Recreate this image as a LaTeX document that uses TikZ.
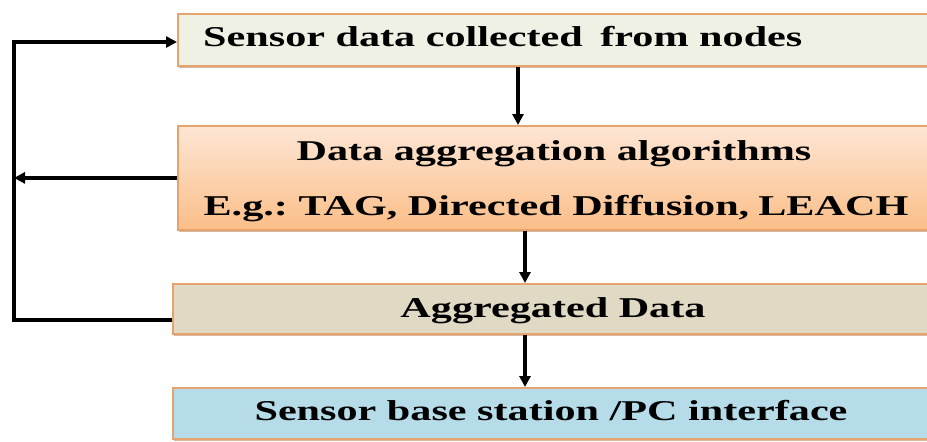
\documentclass[tikz,border=0pt]{standalone}
\usepackage{fontspec}
\setmainfont{Liberation Serif}
\frenchspacing
\usetikzlibrary{arrows.meta,shadows}
\definecolor{boxedge}{HTML}{E6A36E}
\definecolor{sensorfill}{HTML}{EEF1E3}
\definecolor{algtop}{HTML}{FDE6D5}
\definecolor{algbot}{HTML}{FBBE88}
\definecolor{aggfill}{HTML}{E0D9C3}
\definecolor{basefill}{HTML}{B5DCE8}
\definecolor{shade}{HTML}{C49C78}
\newcommand{\wide}[1]{\scalebox{1.47}[1]{#1}}
\tikzset{
  stage/.style={draw=boxedge, line width=1.8pt, anchor=north west, inner sep=0pt,
    drop shadow={shadow xshift=1pt, shadow yshift=-2.5pt, fill=shade, opacity=0.7}},
  label/.style={anchor=base, inner sep=0pt,
    font=\fontsize{28.7}{34}\selectfont\bfseries},
  arr/.style={line width=3.4pt, -{Triangle[length=11pt,width=11pt]}},
  link/.style={line width=3.4pt, line join=miter}
}
\begin{document}
\begin{tikzpicture}[x=1pt,y=-1pt]
\useasboundingbox (0,0) rectangle (927,442);
\fill[white] (0,0) rectangle (927,442);
\clip (0,0) rectangle (927,442);

% processing stages
\node[stage, fill=sensorfill, minimum width=760pt, minimum height=52pt] (b1) at (177,13) {};
\node[stage, top color=algtop, bottom color=algbot, minimum width=760pt, minimum height=104pt] (b2) at (177,125) {};
\node[stage, fill=aggfill, minimum width=765pt, minimum height=50pt] (b3) at (172,283) {};
\node[stage, fill=basefill, minimum width=765pt, minimum height=51pt] (b4) at (172,387) {};

% stage labels
\node[label, anchor=base west] (t1) at (203,46) {\wide{Sensor data collected\, from nodes}};
\node[label] (t2a) at (554,160) {\wide{Data aggregation algorithms}};
\node[label] (t2b) at (556,215) {\wide{E.g.: TAG, Directed Diffusion,\kern-1pt\ LEACH}};
\node[label] (t3) at (553,317) {\wide{Aggregated Data}};
\node[label] (t4) at (551,420) {\wide{Sensor base station /PC interface}};

% downward flow
\coordinate (x1) at (518,0);
\coordinate (x2) at (525,0);
\draw[arr] (b1.south -| x1) -- (b2.north -| x1);
\draw[arr] (b2.south -| x2) -- (b3.north -| x2);
\draw[arr] (b3.south -| x2) -- (b4.north -| x2);

% feedback loop on the left
\coordinate (c1) at (14,42);
\coordinate (c3) at (14,320);
\draw[link] (b3.west |- c3) -- (c3) -- ([yshift=1.7pt]c1);
\draw[arr] (c1) -- (c1 -| b1.west);
\draw[arr] (b2.west) -- (b2.west -| c1);
\end{tikzpicture}
\end{document}
